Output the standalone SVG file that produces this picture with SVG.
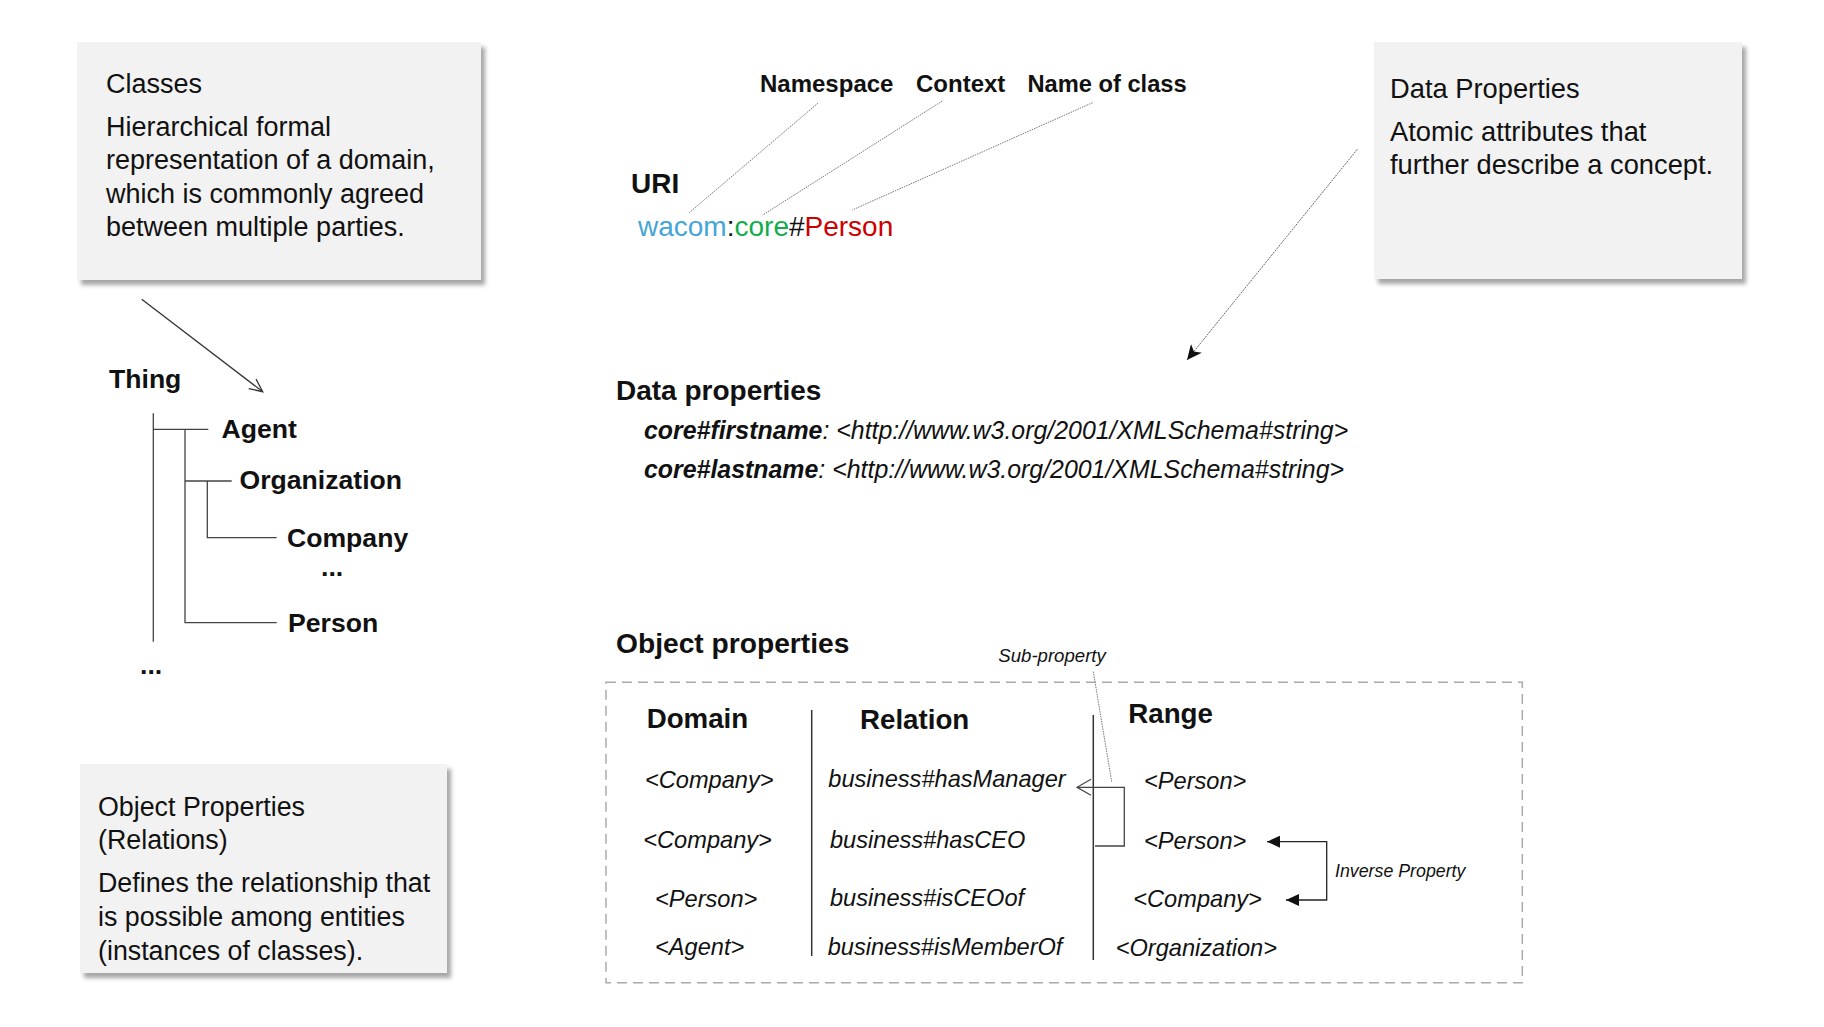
<svg xmlns="http://www.w3.org/2000/svg" width="1824" height="1027" viewBox="0 0 1824 1027">
<style>
text{font-family:"Liberation Sans",Arial,Helvetica,sans-serif;fill:#111}
.box{fill:#f2f2f2;filter:url(#sh)}
.bt{font-size:27.3px}
.hd{font-size:27.7px;font-weight:bold}
.tr{font-size:26.6px;font-weight:bold}
.it{font-size:23.6px;font-style:italic}
.lbl{font-size:24px;font-weight:bold}
.tl{stroke:#444;stroke-width:1.3;fill:none}
.lead{stroke:#777;stroke-width:1;stroke-dasharray:1.5 1;fill:none}
.div{stroke:#333;stroke-width:1.5}
</style>
<defs>
<filter id="sh" x="-10%" y="-10%" width="125%" height="125%">
<feDropShadow dx="4" dy="5" stdDeviation="2" flood-color="#000" flood-opacity="0.35"/>
</filter>
<marker id="vopen" markerWidth="16" markerHeight="14" refX="14" refY="7" orient="auto" markerUnits="userSpaceOnUse">
<path d="M1,1 L14,7 L1,13" fill="none" stroke="#333" stroke-width="1.3"/>
</marker>
<marker id="fillc" markerWidth="16" markerHeight="14" refX="15" refY="7" orient="auto" markerUnits="userSpaceOnUse">
<path d="M0,0 L15,7 L0,14 L4,7 Z" fill="#111"/>
</marker>
<marker id="tri" markerWidth="14" markerHeight="12" refX="13" refY="6" orient="auto-start-reverse" markerUnits="userSpaceOnUse">
<path d="M0,0 L13,6 L0,12 Z" fill="#111"/>
</marker>
<marker id="chev" markerWidth="16" markerHeight="18" refX="15" refY="9" orient="auto" markerUnits="userSpaceOnUse">
<path d="M1,1 L15,9 L1,17" fill="none" stroke="#444" stroke-width="1.2"/>
</marker>
</defs>
<rect width="1824" height="1027" fill="#fff"/>

<g id="classes-box">
<rect class="box" x="77" y="42" width="404" height="238"/>
<text class="bt" x="106" y="92.5" style="font-size:27px">Classes</text>
<text class="bt" x="106" y="135.5" style="font-size:27px">Hierarchical formal</text>
<text class="bt" x="106" y="169" style="font-size:27px">representation of a domain,</text>
<text class="bt" x="106" y="203" style="font-size:27px">which is commonly agreed</text>
<text class="bt" x="106" y="236" style="font-size:27px">between multiple parties.</text>
</g>

<g id="data-properties-box">
<rect class="box" x="1374" y="42" width="368" height="237"/>
<text class="bt" x="1390" y="98">Data Properties</text>
<text class="bt" x="1390" y="140.5">Atomic attributes that</text>
<text class="bt" x="1390" y="174">further describe a concept.</text>
</g>

<g id="object-properties-box">
<rect class="box" x="80" y="764" width="367" height="209"/>
<text class="bt" x="98" y="815.5" style="font-size:26.8px">Object Properties</text>
<text class="bt" x="98" y="849" style="font-size:26.8px">(Relations)</text>
<text class="bt" x="98" y="891.5" style="font-size:26.8px">Defines the relationship that</text>
<text class="bt" x="98" y="926" style="font-size:26.8px">is possible among entities</text>
<text class="bt" x="98" y="959.5" style="font-size:26.8px">(instances of classes).</text>
</g>

<g id="tree">
<text class="tr" x="109" y="388">Thing</text>
<text class="tr" x="221.5" y="437.7">Agent</text>
<text class="tr" x="239.5" y="489">Organization</text>
<text class="tr" x="287" y="546.7">Company</text>
<text class="tr" x="321" y="576">...</text>
<text class="tr" x="288" y="632">Person</text>
<text class="tr" x="140" y="674">...</text>
</g>

<g id="uri">
<text class="lbl" x="760" y="92">Namespace</text>
<text class="lbl" x="916" y="92">Context</text>
<text class="lbl" x="1027.4" y="92" style="font-size:23.7px">Name of class</text>
<text x="631" y="193" style="font-size:28px;font-weight:bold">URI</text>
<text x="638" y="236" style="font-size:28px"><tspan style="fill:#45a5d8">wacom</tspan>:<tspan style="fill:#10ad4c">core</tspan>#<tspan style="fill:#cc0000">Person</tspan></text>
</g>

<g id="data-properties">
<text class="hd" x="616" y="400" style="font-size:28px">Data properties</text>
<text x="644" y="439" style="font-size:24.9px;font-style:italic"><tspan font-weight="bold">core#firstname</tspan>: &lt;http://www.w3.org/2001/XMLSchema#string&gt;</text>
<text x="644" y="477.5" style="font-size:24.9px;font-style:italic"><tspan font-weight="bold">core#lastname</tspan>: &lt;http://www.w3.org/2001/XMLSchema#string&gt;</text>
</g>

<g id="object-properties">
<text class="hd" x="616" y="653" style="font-size:28.2px">Object properties</text>
<rect x="606" y="682.3" width="916.3" height="300.4" fill="none" stroke="#aaa" stroke-width="1.5" stroke-dasharray="10 6"/>
<text class="hd" x="646.7" y="728.3">Domain</text>
<text class="hd" x="860" y="729.3">Relation</text>
<text class="hd" x="1128.3" y="723.3">Range</text>
<text class="it" x="645" y="788.3">&lt;Company&gt;</text>
<text class="it" x="643.3" y="848.3">&lt;Company&gt;</text>
<text class="it" x="655" y="906.7">&lt;Person&gt;</text>
<text class="it" x="655" y="955">&lt;Agent&gt;</text>
<text class="it" x="828.3" y="787.3">business#hasManager</text>
<text class="it" x="830" y="848.3">business#hasCEO</text>
<text class="it" x="830" y="906">business#isCEOof</text>
<text class="it" x="827.7" y="955">business#isMemberOf</text>
<text class="it" x="1144" y="789.3">&lt;Person&gt;</text>
<text class="it" x="1144" y="849">&lt;Person&gt;</text>
<text class="it" x="1133.3" y="907.3">&lt;Company&gt;</text>
<text class="it" x="1115.7" y="956">&lt;Organization&gt;</text>
<text x="998.3" y="662" style="font-size:18.6px;font-style:italic">Sub-property</text>
<text x="1335" y="876.7" style="font-size:17.8px;font-style:italic">Inverse Property</text>
</g>

<g id="connectors">
<line x1="141.7" y1="299.3" x2="262.7" y2="391.7" stroke="#333" stroke-width="1.3" marker-end="url(#vopen)"/>
<path class="tl" d="M153.3,413.3 V641.7 M153.3,429.3 H208.3 M185,429.3 V622.7 H276.7 M185,481 H231.7 M207.3,481 V537.7 H276.7"/>
<line class="lead" x1="817.8" y1="103.3" x2="689.2" y2="212.7"/>
<line class="lead" x1="942.3" y1="101" x2="762.7" y2="215"/>
<line class="lead" x1="1092.5" y1="102.7" x2="852.3" y2="210"/>
<line x1="1357.3" y1="149.3" x2="1187" y2="360" stroke="#666" stroke-width="1" stroke-dasharray="2 1" marker-end="url(#fillc)"/>
<line class="div" x1="811.7" y1="710" x2="811.7" y2="956"/>
<line class="div" x1="1093.3" y1="715" x2="1093.3" y2="960"/>
<line class="lead" x1="1093.3" y1="671.7" x2="1111.7" y2="781.7"/>
<path d="M1095,846 H1124.3 V787.3 H1077" fill="none" stroke="#444" stroke-width="1.3" marker-end="url(#chev)"/>
<path d="M1267,841.7 H1326.7 V900 H1286" fill="none" stroke="#222" stroke-width="1.3" marker-start="url(#tri)" marker-end="url(#tri)"/>
</g>
</svg>
